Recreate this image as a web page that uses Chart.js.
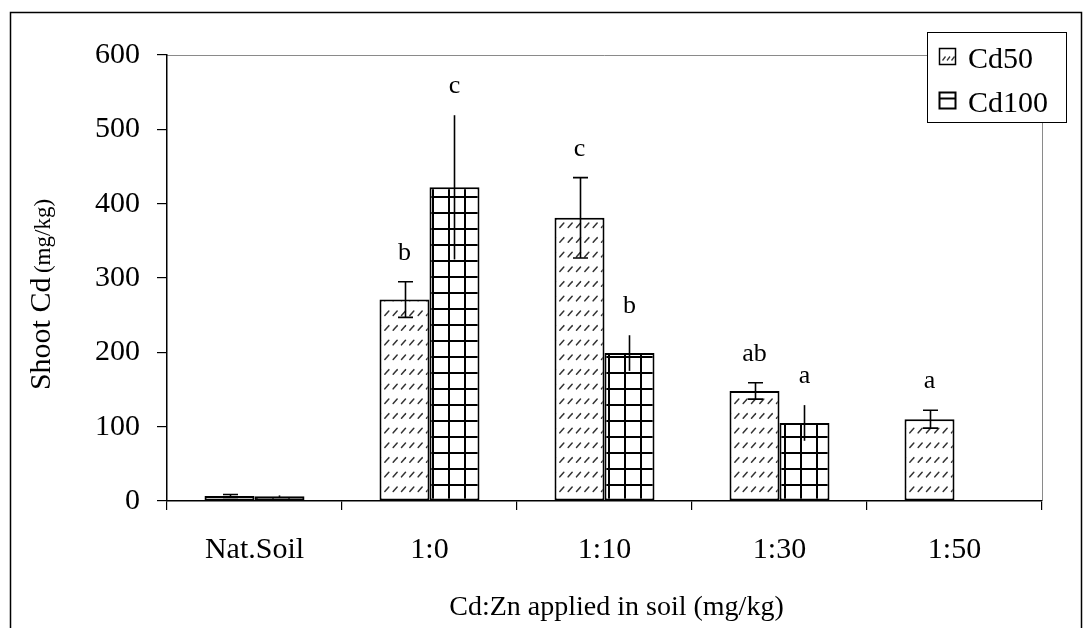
<!DOCTYPE html>
<html>
<head>
<meta charset="utf-8">
<script src="https://cdn.jsdelivr.net/npm/chart.js@4/dist/chart.umd.min.js"></script>
<style>
  html, body { margin: 0; padding: 0; background: #fff; }
  #wrap { position: relative; width: 1084px; height: 628px; }
  canvas { display: block; }
</style>
</head>
<body>
<div id="wrap"><canvas id="chart" width="1084" height="628"></canvas></div>
<script>
// Shoot Cd concentration by Cd:Zn ratio applied in soil
const categories = ['Nat.Soil', '1:0', '1:10', '1:30', '1:50'];
const seriesNames = ['Cd50', 'Cd100'];
const cd50Mean = [6.7, 271, 381, 148, 110];
const cd50Err = [2, 24, 54, 11, 12];
const cd100Mean = [6.5, 422, 199, 105, null];
const cd100Err = [1, 97, 24, 24, null];
const cd50Letters = ['', 'b', 'c', 'ab', 'a'];
const cd100Letters = ['', 'c', 'b', 'a', ''];
const yTitleMain = 'Shoot Cd ';
const yTitleUnit = '(mg/kg)';
const xTitle = 'Cd:Zn applied in soil (mg/kg)';

const SERIF = "'Liberation Serif', 'Times New Roman', serif";

// small slanted dashes on white
function dashPattern() {
  const c = document.createElement('canvas');
  c.width = 25; c.height = 44;
  const g = c.getContext('2d');
  g.fillStyle = '#fff';
  g.fillRect(0, 0, c.width, c.height);
  g.strokeStyle = '#333';
  g.lineWidth = 1.5;
  g.lineCap = 'round';
  for (let r = 0; r < 3; r++) {
    const y0 = r * 14.67 + 3;
    for (let k = 0; k < 3; k++) {
      const x0 = k * 8.33 + 1.5;
      g.beginPath();
      g.moveTo(x0, y0 + 4.5);
      g.lineTo(x0 + 4, y0);
      g.stroke();
    }
  }
  return g.createPattern(c, 'repeat');
}

// square grid on white
function gridPattern() {
  const c = document.createElement('canvas');
  c.width = 16; c.height = 16;
  const g = c.getContext('2d');
  g.fillStyle = '#fff';
  g.fillRect(0, 0, 16, 16);
  g.fillStyle = '#000';
  g.fillRect(0, 0, 2, 16);
  g.fillRect(0, 4, 16, 2);
  return g.createPattern(c, 'repeat');
}

// outer frame and grey plot-area outline
const framePlugin = {
  id: 'frame',
  beforeDraw(chart) {
    const ctx = chart.ctx;
    ctx.save();
    ctx.fillStyle = '#fff';
    ctx.fillRect(0, 0, chart.width, chart.height);
    ctx.strokeStyle = '#000';
    ctx.lineWidth = 1.5;
    ctx.beginPath();
    ctx.moveTo(10.5, chart.height + 5);
    ctx.lineTo(10.5, 12.5);
    ctx.lineTo(1081.5, 12.5);
    ctx.lineTo(1081.5, chart.height + 5);
    ctx.stroke();
    const a = chart.chartArea;
    ctx.strokeStyle = '#8a8a8a';
    ctx.lineWidth = 1;
    ctx.beginPath();
    ctx.moveTo(a.left, a.top + 0.5);
    ctx.lineTo(a.right + 0.5, a.top + 0.5);
    ctx.lineTo(a.right + 0.5, a.bottom);
    ctx.stroke();
    ctx.restore();
  }
};

// error bars, significance letters, axis titles and legend box
const annotatePlugin = {
  id: 'annotate',
  afterDatasetsDraw(chart) {
    const ctx = chart.ctx;
    const ys = chart.scales.y;
    const errs = [cd50Err, cd100Err];
    const means = [cd50Mean, cd100Mean];
    const letters = [cd50Letters, cd100Letters];
    ctx.save();
    for (let d = 0; d < 2; d++) {
      const meta = chart.getDatasetMeta(d);
      meta.data.forEach((bar, i) => {
        const m = means[d][i];
        const e = errs[d][i];
        if (m == null) return;
        const x = Math.round(bar.x) + 0.5;
        const yt = ys.getPixelForValue(m + e);
        const yb = ys.getPixelForValue(m - e);
        ctx.strokeStyle = '#000';
        ctx.lineWidth = 1.6;
        ctx.beginPath();
        ctx.moveTo(x, yt);
        ctx.lineTo(x, yb);
        if (d === 0) {
          ctx.moveTo(x - 7.5, yt);
          ctx.lineTo(x + 7.5, yt);
          ctx.moveTo(x - 7.5, yb);
          ctx.lineTo(x + 7.5, yb);
        }
        ctx.stroke();
        const t = letters[d][i];
        if (t) {
          ctx.fillStyle = '#000';
          ctx.font = '26px ' + SERIF;
          ctx.textAlign = 'center';
          ctx.textBaseline = 'alphabetic';
          ctx.fillText(t, bar.x, yt - 22);
        }
      });
    }
    ctx.restore();
  },
  afterDraw(chart) {
    const ctx = chart.ctx;
    const a = chart.chartArea;
    ctx.save();
    ctx.fillStyle = '#000';
    // y-axis title, rotated, with a smaller unit
    ctx.translate(50, (a.top + a.bottom) / 2 + 15);
    ctx.rotate(-Math.PI / 2);
    ctx.font = '30px ' + SERIF;
    const w1 = ctx.measureText(yTitleMain).width;
    ctx.font = '23px ' + SERIF;
    const w2 = ctx.measureText(yTitleUnit).width;
    const x0 = -(w1 + w2) / 2;
    ctx.textAlign = 'left';
    ctx.textBaseline = 'alphabetic';
    ctx.font = '30px ' + SERIF;
    ctx.fillText(yTitleMain, x0, 0);
    ctx.font = '23px ' + SERIF;
    ctx.fillText(yTitleUnit, x0 + w1 - 3, 0);
    ctx.restore();

    // x-axis title
    ctx.save();
    ctx.fillStyle = '#000';
    ctx.font = '28px ' + SERIF;
    ctx.textAlign = 'center';
    ctx.textBaseline = 'alphabetic';
    ctx.fillText(xTitle, (a.left + a.right) / 2 + 12, 615);
    ctx.restore();

    // legend
    ctx.save();
    const lx = 927.5, ly = 32.5, lw = 139, lh = 90;
    ctx.fillStyle = '#fff';
    ctx.fillRect(lx, ly, lw, lh);
    ctx.strokeStyle = '#000';
    ctx.lineWidth = 1;
    ctx.strokeRect(lx, ly, lw, lh);
    const rows = [48, 92];
    rows.forEach((ry, k) => {
      const sx = 939.5, sy = ry + 0.5, s = 16;
      ctx.fillStyle = '#fff';
      ctx.fillRect(sx, sy, s, s);
      ctx.strokeStyle = '#000';
      if (k === 0) {
        ctx.strokeStyle = '#333';
        ctx.lineWidth = 1.3;
        for (let j = 0; j < 3; j++) {
          ctx.beginPath();
          ctx.moveTo(sx + 3 + j * 4.5, sy + 12);
          ctx.lineTo(sx + 6 + j * 4.5, sy + 8);
          ctx.stroke();
        }
        ctx.strokeStyle = '#000';
        ctx.lineWidth = 1.5;
        ctx.strokeRect(sx, sy, s, s);
      } else {
        ctx.lineWidth = 2;
        ctx.strokeRect(sx, sy, s, s);
        ctx.beginPath();
        ctx.moveTo(sx, sy + 6);
        ctx.lineTo(sx + s, sy + 6);
        ctx.stroke();
      }
      ctx.fillStyle = '#000';
      ctx.font = '30px ' + SERIF;
      ctx.textAlign = 'left';
      ctx.textBaseline = 'alphabetic';
      ctx.fillText(seriesNames[k], 968, ry + 20);
    });
    ctx.restore();
  }
};

const ctx = document.getElementById('chart').getContext('2d');
new Chart(ctx, {
  type: 'bar',
  data: {
    labels: categories,
    datasets: [
      {
        label: seriesNames[0],
        data: cd50Mean,
        backgroundColor: dashPattern(),
        borderColor: '#000',
        borderWidth: 2,
        borderSkipped: false,
        categoryPercentage: 0.5714,
        barPercentage: 1.0
      },
      {
        label: seriesNames[1],
        data: cd100Mean,
        backgroundColor: gridPattern(),
        borderColor: '#000',
        borderWidth: 2,
        borderSkipped: false,
        categoryPercentage: 0.5714,
        barPercentage: 1.0
      }
    ]
  },
  options: {
    responsive: false,
    animation: false,
    devicePixelRatio: 1,
    layout: { padding: { top: 55, right: 42, left: 0, bottom: 0 } },
    plugins: {
      legend: { display: false },
      tooltip: { enabled: false },
      title: { display: false }
    },
    scales: {
      x: {
        offset: true,
        grid: {
          offset: true,
          drawOnChartArea: false,
          drawTicks: true,
          tickLength: 9,
          color: '#000',
          lineWidth: 1.2
        },
        border: { display: true, color: '#000', width: 1.5 },
        ticks: {
          color: '#000',
          font: { family: SERIF, size: 30 },
          padding: 22,
          maxRotation: 0,
          autoSkip: false
        },
        afterFit(scale) { scale.height = 127; }
      },
      y: {
        min: 0,
        max: 600,
        grid: {
          drawOnChartArea: false,
          drawTicks: true,
          tickLength: 10,
          color: '#000',
          lineWidth: 1.2
        },
        border: { display: true, color: '#000', width: 1.5 },
        ticks: {
          stepSize: 100,
          color: '#000',
          font: { family: SERIF, size: 30 },
          padding: 17
        },
        afterFit(scale) { scale.width = 167; }
      }
    }
  },
  plugins: [framePlugin, annotatePlugin]
});
</script>
</body>
</html>
